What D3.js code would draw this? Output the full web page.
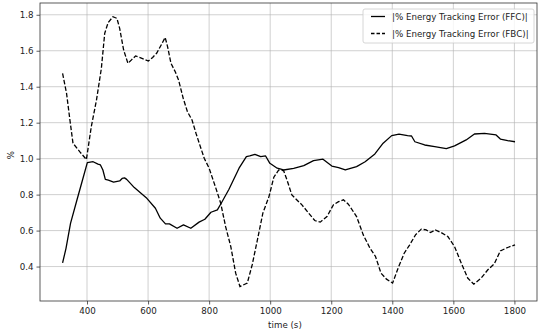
<!DOCTYPE html>
<html>
<head>
<meta charset="utf-8">
<script src="https://cdn.jsdelivr.net/npm/d3@7"></script>
<style>
  body { margin: 0; background: #fff; }
  svg { font-family: "DejaVu Sans", sans-serif; }
</style>
</head>
<body>
<svg id="chart" width="538" height="335"></svg>
<script>
// series
const ffcTime = [320, 331, 346, 367, 385, 401, 420, 436, 444, 452, 460, 470, 487, 507, 515, 523, 530, 555, 594, 624, 640, 657, 670, 695, 716, 740, 767, 786, 806, 827, 841, 865, 898, 922, 933, 950, 969, 985, 999, 1023, 1044, 1077, 1110, 1142, 1173, 1202, 1224, 1246, 1283, 1311, 1343, 1370, 1398, 1422, 1450, 1463, 1474, 1506, 1539, 1577, 1604, 1642, 1669, 1702, 1740, 1754, 1778, 1802];
const ffcValues = [0.42, 0.50, 0.64, 0.77, 0.88, 0.978, 0.983, 0.97, 0.965, 0.937, 0.885, 0.88, 0.87, 0.876, 0.89, 0.893, 0.885, 0.839, 0.783, 0.724, 0.669, 0.637, 0.637, 0.613, 0.632, 0.613, 0.647, 0.663, 0.702, 0.715, 0.756, 0.83, 0.947, 1.011, 1.015, 1.024, 1.011, 1.015, 0.974, 0.947, 0.937, 0.946, 0.961, 0.989, 0.997, 0.959, 0.95, 0.937, 0.956, 0.983, 1.026, 1.086, 1.128, 1.136, 1.128, 1.126, 1.094, 1.076, 1.067, 1.056, 1.071, 1.104, 1.137, 1.141, 1.132, 1.109, 1.10, 1.094];

const fbcTime = [320, 333, 344, 354, 376, 398, 414, 431, 447, 458, 469, 485, 498, 507, 520, 534, 545, 559, 572, 588, 601, 615, 628, 643, 656, 664, 675, 689, 700, 715, 729, 744, 757, 773, 784, 800, 822, 838, 854, 871, 887, 901, 925, 941, 957, 976, 996, 1012, 1028, 1044, 1055, 1071, 1104, 1126, 1146, 1164, 1186, 1207, 1224, 1240, 1256, 1283, 1305, 1327, 1345, 1363, 1381, 1401, 1419, 1439, 1457, 1476, 1495, 1511, 1525, 1541, 1560, 1582, 1604, 1626, 1647, 1667, 1691, 1713, 1734, 1754, 1778, 1802];
const fbcValues = [1.474, 1.363, 1.215, 1.086, 1.039, 0.995, 1.178, 1.326, 1.502, 1.697, 1.756, 1.789, 1.78, 1.724, 1.604, 1.53, 1.548, 1.571, 1.563, 1.552, 1.543, 1.563, 1.586, 1.632, 1.674, 1.622, 1.53, 1.483, 1.437, 1.336, 1.261, 1.215, 1.141, 1.058, 1.002, 0.947, 0.836, 0.752, 0.622, 0.511, 0.363, 0.289, 0.308, 0.409, 0.539, 0.697, 0.789, 0.897, 0.937, 0.933, 0.882, 0.798, 0.743, 0.697, 0.656, 0.647, 0.678, 0.743, 0.761, 0.771, 0.747, 0.678, 0.576, 0.502, 0.456, 0.363, 0.33, 0.308, 0.391, 0.474, 0.521, 0.576, 0.608, 0.604, 0.589, 0.604, 0.589, 0.567, 0.511, 0.419, 0.336, 0.302, 0.336, 0.382, 0.415, 0.487, 0.506, 0.521];

const xTicks = [400, 600, 800, 1000, 1200, 1400, 1600, 1800];
const yTicks = [0.4, 0.6, 0.8, 1.0, 1.2, 1.4, 1.6, 1.8];
const seriesNames = ['|% Energy Tracking Error (FFC)|', '|% Energy Tracking Error (FBC)|'];

const svg = d3.select('#chart');
const margin = { top: 3, right: 1, bottom: 34, left: 40 };
const width = 538 - margin.left - margin.right;
const height = 335 - margin.top - margin.bottom;
const fontSize = 8.7;

const x = d3.scaleLinear().domain([246, 1874]).range([0, width]);
const y = d3.scaleLinear().domain([0.2085, 1.8655]).range([height, 0]);

const g = svg.append('g').attr('transform', `translate(${margin.left}, ${margin.top})`);

// grid
g.append('g')
  .selectAll('line.vgrid')
  .data(xTicks)
  .enter()
  .append('line')
  .attr('x1', (d) => x(d))
  .attr('x2', (d) => x(d))
  .attr('y1', 0)
  .attr('y2', height)
  .attr('stroke', '#b0b0b0')
  .attr('stroke-opacity', 0.75)
  .attr('stroke-width', 0.8);

g.append('g')
  .selectAll('line.hgrid')
  .data(yTicks)
  .enter()
  .append('line')
  .attr('x1', 0)
  .attr('x2', width)
  .attr('y1', (d) => y(d))
  .attr('y2', (d) => y(d))
  .attr('stroke', '#b0b0b0')
  .attr('stroke-opacity', 0.75)
  .attr('stroke-width', 0.8);

// lines
const line = (times) => d3.line().x((d, i) => x(times[i])).y((d) => y(d));

g.append('path')
  .datum(ffcValues)
  .attr('fill', 'none')
  .attr('stroke', '#000')
  .attr('stroke-width', 1.3)
  .attr('stroke-linejoin', 'round')
  .attr('d', line(ffcTime));

g.append('path')
  .datum(fbcValues)
  .attr('fill', 'none')
  .attr('stroke', '#000')
  .attr('stroke-width', 1.3)
  .attr('stroke-dasharray', '4.6,2')
  .attr('d', line(fbcTime));

// axes
const xAxis = g.append('g')
  .attr('transform', `translate(0, ${height})`)
  .call(d3.axisBottom(x).tickValues(xTicks).tickFormat(d3.format('d')).tickSize(3.5).tickPadding(3));
const yAxis = g.append('g')
  .call(d3.axisLeft(y).tickValues(yTicks).tickFormat(d3.format('.1f')).tickSize(3.5).tickPadding(3));

[xAxis, yAxis].forEach((ax) => {
  ax.select('.domain').remove();
  ax.selectAll('line').attr('stroke', '#333').attr('stroke-width', 0.8);
  ax.selectAll('text').attr('fill', '#222').style('font-size', fontSize + 'px').style('font-family', '"DejaVu Sans"');
});

// spines
g.append('rect')
  .attr('width', width)
  .attr('height', height)
  .attr('fill', 'none')
  .attr('stroke', '#333')
  .attr('stroke-width', 0.8);

// axis labels
svg.append('text')
  .attr('x', margin.left + x(1050) - 0.5)
  .attr('y', 328)
  .attr('text-anchor', 'middle')
  .attr('fill', '#222')
  .style('font-size', fontSize + 'px')
  .text('time (s)');

svg.append('text')
  .attr('transform', 'translate(14, 155) rotate(-90)')
  .attr('text-anchor', 'middle')
  .attr('fill', '#222')
  .style('font-size', fontSize + 'px')
  .text('%');

// legend
const legend = svg.append('g').attr('transform', 'translate(363, 9)');
legend.append('rect')
  .attr('width', 171)
  .attr('height', 34)
  .attr('rx', 2)
  .attr('fill', '#fff')
  .attr('fill-opacity', 0.8)
  .attr('stroke', '#ccc')
  .attr('stroke-width', 0.8);

const rows = legend.selectAll('g.row')
  .data(seriesNames)
  .enter()
  .append('g')
  .attr('transform', (d, i) => `translate(0, ${7.5 + i * 17})`);

rows.append('line')
  .attr('x1', 8)
  .attr('x2', 22)
  .attr('stroke', '#000')
  .attr('stroke-width', 1.3)
  .attr('stroke-dasharray', (d, i) => (i === 1 ? '3.5,2' : null));

rows.append('text')
  .attr('x', 29)
  .attr('dy', '0.35em')
  .attr('fill', '#222')
  .style('font-size', fontSize + 'px')
  .text((d) => d);
</script>
</body>
</html>
